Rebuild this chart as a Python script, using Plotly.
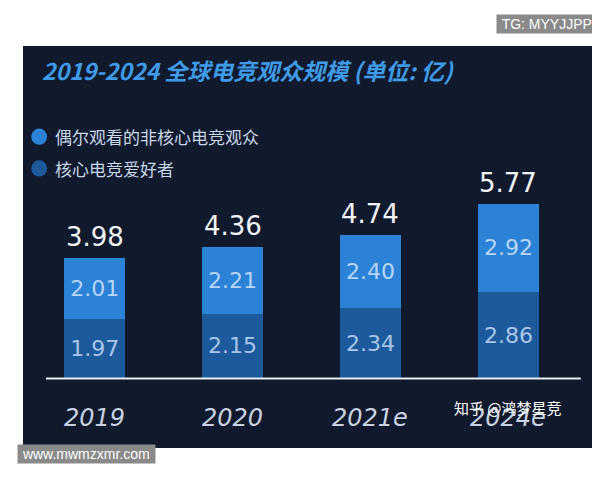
import plotly.graph_objects as go

years = ["2019", "2020", "2021e", "2024e"]
core = [1.97, 2.15, 2.34, 2.86]
casual = [2.01, 2.21, 2.40, 2.92]
totals = [3.98, 4.36, 4.74, 5.77]

fig = go.Figure()
fig.add_trace(go.Bar(x=years, y=core, name="核心电竞爱好者", marker=dict(color="#1c5a9c", line_width=0),
                     text=[f"{v:.2f}" for v in core], textposition="inside", insidetextanchor="middle",
                     textfont=dict(size=22, color="#a8c6ea", family="DejaVu Sans"), width=0.44))
fig.add_trace(go.Bar(x=years, y=casual, name="偶尔观看的非核心电竞观众", marker=dict(color="#2b82d6", line_width=0),
                     text=[f"{v:.2f}" for v in casual], textposition="inside", insidetextanchor="middle",
                     textfont=dict(size=22, color="#b8d6f6", family="DejaVu Sans"), width=0.44))

for i, (y, t) in enumerate(zip(years, totals)):
    fig.add_annotation(x=i, y=t + 0.7, text=f"{t:.2f}", showarrow=False,
                       font=dict(size=26, color="#f2f4f8", family="DejaVu Sans"))
    fig.add_annotation(x=i, y=-1.3, text=f"<i>{y}</i>", showarrow=False,
                       font=dict(size=24, color="#c8d2e2", family="DejaVu Sans"))

# dark panel and baseline
fig.add_shape(type="rect", xref="paper", yref="paper", x0=0, x1=1, y0=0, y1=1,
              fillcolor="#111a2c", line_width=0, layer="below")
fig.add_shape(type="line", xref="paper", yref="y", x0=0.04, x1=0.97, y0=0, y1=0,
              line=dict(color="#e8eef6", width=2))

fig.add_annotation(xref="paper", x=0.03, y=10.2, xanchor="left", showarrow=False,
                   text="<b><i>2019-2024 全球电竞观众规模 (单位: 亿)</i></b>",
                   font=dict(size=23, color="#3f9be8", family="Noto Sans CJK SC"))
legend = [("偶尔观看的非核心电竞观众", "#2b82d6", 8.0), ("核心电竞爱好者", "#1c5a9c", 6.95)]
for txt, col, yy in legend:
    fig.add_shape(type="circle", xref="x", yref="y", x0=-0.46, x1=-0.345, y0=yy - 0.27, y1=yy + 0.27,
                  fillcolor=col, line_width=0)
    fig.add_annotation(x=-0.3, y=yy, xanchor="left", text=txt, showarrow=False,
                       font=dict(size=17, color="#c8d6ea", family="Noto Sans CJK SC"))

fig.add_annotation(x=3.0, y=-0.95, text="知乎 @鸿梦星竞", showarrow=False,
                   font=dict(size=15, color="#ffffff", family="Noto Sans CJK SC"))
fig.add_annotation(xref="paper", yref="paper", x=1.0, y=1.08, xanchor="right", text=" TG: MYYJJPP ",
                   showarrow=False, bgcolor="#8a8a8a", font=dict(size=14, color="white", family="Liberation Sans"))
fig.add_annotation(xref="paper", yref="paper", x=-0.01, y=-0.04, xanchor="left", text=" www.mwmzxmr.com ",
                   showarrow=False, bgcolor="#8a8a8a", font=dict(size=14, color="white", family="Liberation Sans"))

fig.update_layout(
    width=600, height=480, barmode="stack", showlegend=False,
    paper_bgcolor="white", plot_bgcolor="#111a2c",
    margin=dict(l=15, r=10, t=38, b=40),
    xaxis=dict(type="category", range=[-0.52, 3.65], showgrid=False, zeroline=False,
               showticklabels=False, fixedrange=True),
    yaxis=dict(range=[-2.3, 11.0], showgrid=False, zeroline=False, showticklabels=False, fixedrange=True),
)
fig.write_html("out.html")
